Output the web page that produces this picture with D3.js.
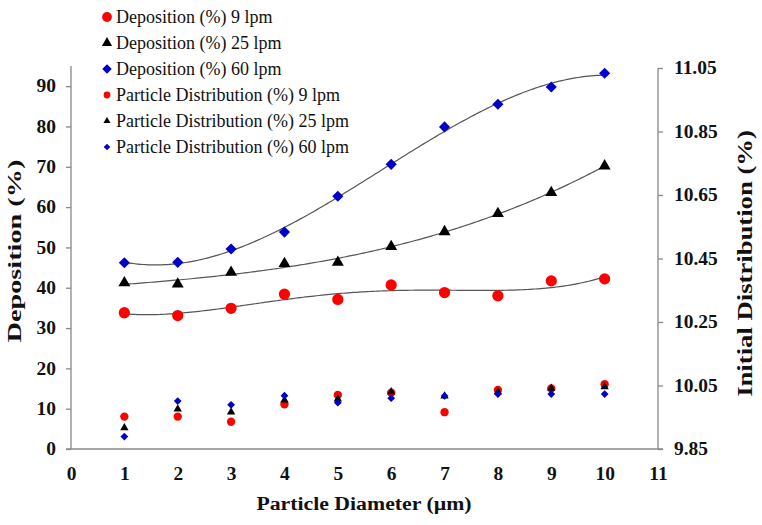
<!DOCTYPE html>
<html><head><meta charset="utf-8">
<script src="https://cdn.jsdelivr.net/npm/d3@7"></script>
<style>body{margin:0;background:#fff}svg{display:block}</style>
</head><body>
<svg id="c" width="762" height="525"></svg>
<script>
const diameters = [1,2,3,4,5,6,7,8,9,10];
const dep9  = [33.8, 33.1, 34.9, 38.4, 37.1, 40.7, 38.8, 38.0, 41.7, 42.2];
const dep25 = [41.2, 40.9, 43.8, 46.0, 46.3, 50.2, 53.9, 58.4, 63.6, 70.2];
const dep60 = [46.2, 46.3, 49.6, 53.8, 62.7, 70.6, 79.9, 85.5, 89.8, 93.2];
const dist9  = [9.952, 9.952, 9.936, 9.991, 10.020, 10.027, 9.966, 10.036, 10.041, 10.054];
const dist25 = [9.917, 9.976, 9.966, 10.004, 10.007, 10.030, 10.017, 10.030, 10.041, 10.046];
const dist60 = [9.889, 10.001, 9.989, 10.018, 9.996, 10.010, 10.017, 10.023, 10.023, 10.023];
const trendOrders = [4, 3, 3];
const xTicks = [0,1,2,3,4,5,6,7,8,9,10,11];
const leftTicks = [0,10,20,30,40,50,60,70,80,90];
const rightTicks = [9.85,10.05,10.25,10.45,10.65,10.85,11.05];
const legendLabels = ["Deposition (%) 9 lpm","Deposition (%) 25 lpm","Deposition (%) 60 lpm",
  "Particle Distribution (%) 9 lpm","Particle Distribution (%) 25 lpm","Particle Distribution (%) 60 lpm"];

const svg = d3.select("#c");
const L = 71, R = 658, T = 66, B = 449;
const x = d3.scaleLinear().domain([0,11]).range([L,R]);
const yL = d3.scaleLinear().domain([0,95]).range([B,T]);
const yR = d3.scaleLinear().domain([9.85,11.05]).range([B,68]);
const font = "'Liberation Serif','Times New Roman',serif";
const RED="#ff0000", BLK="#000000", BLU="#0000c8";

function stretch(sel, sx){
  sel.each(function(){
    const t=d3.select(this);
    const tx=+t.attr("x")||0, ty=+t.attr("y")||0;
    t.attr("x",0).attr("y",0).attr("transform",`translate(${tx},${ty}) scale(${sx},1)`);
  });
}

// axes
const ax = svg.append("g").attr("font-family",font);
const gl = ax.append("g").attr("transform",`translate(${L},0)`)
  .call(d3.axisLeft(yL).tickValues(leftTicks).tickSize(5).tickPadding(10).tickFormat(d3.format("d")));
const gr = ax.append("g").attr("transform",`translate(${R},0)`)
  .call(d3.axisRight(yR).tickValues(rightTicks).tickSize(5).tickPadding(11).tickFormat(d3.format(".2f")));
const gx = ax.append("g").attr("transform",`translate(0,${B})`)
  .call(d3.axisBottom(x).tickValues(xTicks).tickSize(0).tickPadding(18).tickFormat(d3.format("d")));
[gl,gr,gx].forEach(g=>{
  g.select(".domain").attr("stroke","#888").attr("stroke-width",1.3);
  g.selectAll(".tick line").attr("stroke","#888").attr("stroke-width",1.3);
  g.selectAll("text").attr("font-size",18).attr("font-weight","bold").attr("font-family",font).attr("fill","#111");
  stretch(g.selectAll(".tick text"),1.08);
});
gl.select(".domain").attr("d",`M0,${T}V${B}`);
gr.select(".domain").attr("d",`M0,68V${B}`);
gx.select(".domain").attr("d",`M${L-5},0H${R+5}`);

// titles
svg.append("text").attr("transform",`translate(20.5,251) rotate(-90) scale(1.45,1)`).attr("text-anchor","middle")
  .attr("font-family",font).attr("font-size",19.5).attr("font-weight","bold").attr("fill","#111").text("Deposition (%)");
svg.append("text").attr("transform",`translate(752,263.5) rotate(-90) scale(1.27,1)`).attr("text-anchor","middle")
  .attr("font-family",font).attr("font-size",21).attr("font-weight","bold").attr("fill","#111").text("Initial Distribution (%)");
svg.append("text").attr("transform",`translate(364,510) scale(1.21,1)`).attr("text-anchor","middle")
  .attr("font-family",font).attr("font-size",18).attr("font-weight","bold").attr("fill","#111").text("Particle Diameter (µm)");

// least squares polynomial trendline
function polyFit(xs, ys, order){
  const n=order+1, A=[...Array(n)].map(()=>Array(n+1).fill(0));
  xs.forEach((xv,i)=>{
    for(let r=0;r<n;r++){ for(let c=0;c<n;c++) A[r][c]+=Math.pow(xv,r+c); A[r][n]+=ys[i]*Math.pow(xv,r); }
  });
  for(let i=0;i<n;i++){
    let p=i; for(let k=i+1;k<n;k++) if(Math.abs(A[k][i])>Math.abs(A[p][i])) p=k;
    [A[i],A[p]]=[A[p],A[i]];
    for(let k=i+1;k<n;k++){ const f=A[k][i]/A[i][i]; for(let c=i;c<=n;c++) A[k][c]-=f*A[i][c]; }
  }
  const co=Array(n).fill(0);
  for(let i=n-1;i>=0;i--){ let s=A[i][n]; for(let c=i+1;c<n;c++) s-=A[i][c]*co[c]; co[i]=s/A[i][i]; }
  return xv=>co.reduce((s,c,k)=>s+c*Math.pow(xv,k),0);
}
const line = d3.line().x(d=>x(d[0])).y(d=>yL(d[1]));
[dep9,dep25,dep60].forEach((s,k)=>{
  const f=polyFit(diameters,s,trendOrders[k]);
  const pts=d3.range(1,10.001,0.05).map(v=>[v,f(v)]);
  svg.append("path").attr("d",line(pts)).attr("fill","none").attr("stroke","#555").attr("stroke-width",1.2);
});

// markers
function mark(g, type, size, color){
  if(type==="circle") return g.append("path").attr("d",d3.symbol(d3.symbolCircle,size)()).attr("fill",color);
  if(type==="triangle") return g.append("path").attr("d",d3.symbol(d3.symbolTriangle,size)()).attr("fill",color);
  return g.append("path").attr("d",d3.symbol(d3.symbolSquare,size)()).attr("transform","rotate(45)").attr("fill",color);
}
const seriesDefs = [
  {data:dep9, y:yL, type:"circle", size:100, color:RED},
  {data:dep25, y:yL, type:"triangle", size:62, color:BLK},
  {data:dep60, y:yL, type:"diamond", size:62, color:BLU},
  {data:dist9, y:yR, type:"circle", size:55, color:RED},
  {data:dist25, y:yR, type:"triangle", size:30, color:BLK},
  {data:dist60, y:yR, type:"diamond", size:30, color:BLU}
];
seriesDefs.forEach(s=>{
  s.data.forEach((v,i)=>{
    const g=svg.append("g").attr("transform",`translate(${x(diameters[i])},${s.y(v)})`);
    mark(g,s.type,s.size,s.color);
  });
});

// legend
const lg = svg.append("g").attr("font-family",font);
const legendSizes=[75,45,45,36,22,22];
legendLabels.forEach((t,i)=>{
  const yy=17+i*26;
  const g=lg.append("g").attr("transform",`translate(107,${yy})`);
  mark(g,seriesDefs[i].type,legendSizes[i],seriesDefs[i].color);
  lg.append("text").attr("x",116).attr("y",yy).attr("dy","0.35em").attr("font-size",18).attr("fill","#111").text(t);
});
</script>
</body></html>
